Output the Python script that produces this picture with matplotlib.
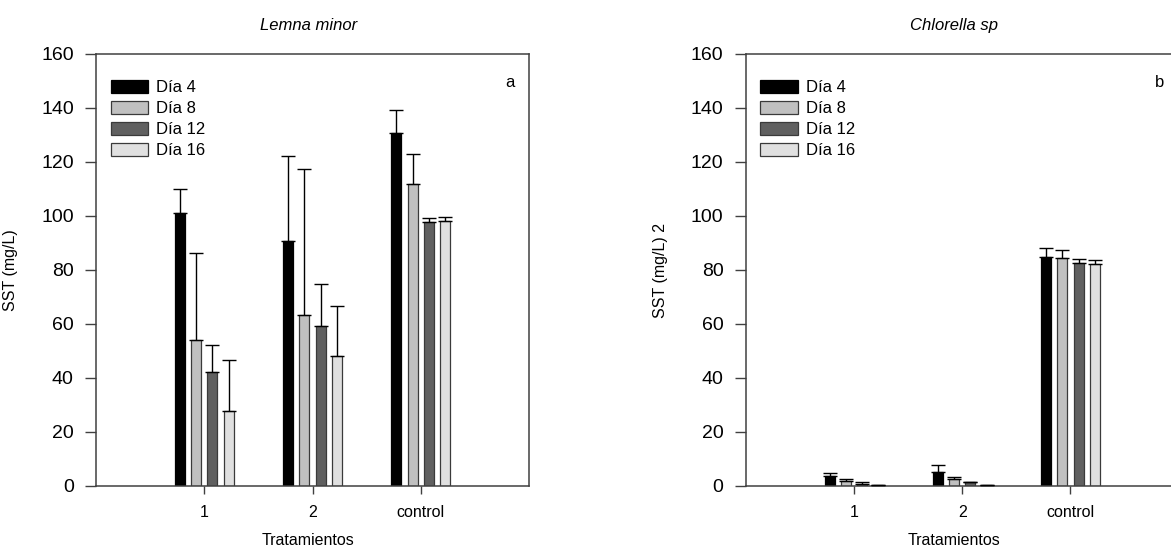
import matplotlib
matplotlib.use('Agg')
import matplotlib.pyplot as plt
import numpy as np

plt.rcParams['font.family'] = ['Liberation Sans', 'DejaVu Sans']

treatments = ['1', '2', 'control']
days = ['Día 4', 'Día 8', 'Día 12', 'Día 16']
colors = ['#000000', '#c0c0c0', '#606060', '#e0e0e0']

# Lemna minor, SST (mg/L): rows = day, cols = treatment
lemna_mean = [[101.0, 90.8, 130.8],
              [53.9, 63.4, 111.8],
              [42.4, 59.1, 97.9],
              [27.7, 48.0, 98.3]]
lemna_err = [[9.1, 31.5, 8.3],
             [32.4, 53.9, 11.3],
             [9.8, 15.6, 1.3],
             [19.0, 18.6, 1.4]]

# Chlorella sp
chlorella_mean = [[3.8, 5.2, 84.8],
                  [1.7, 2.6, 84.4],
                  [0.7, 1.3, 82.6],
                  [0.5, 0.3, 82.2]]
chlorella_err = [[1.2, 2.4, 3.3],
                 [0.8, 0.9, 3.0],
                 [0.9, 0.3, 1.6],
                 [0.0, 0.0, 1.6]]

W, H = 1171, 552
fig = plt.figure(figsize=(W / 100, H / 100), dpi=100)

axw, axh = 433 / W, 432 / H
bottom = 66 / H
ax1 = fig.add_axes([96 / W, bottom, axw, axh])
ax2 = fig.add_axes([745.7 / W, bottom, axw, axh])

x = np.arange(1, len(treatments) + 1)
offsets = [-0.225, -0.075, 0.075, 0.225]
spine_col = '#404040'


def draw(ax, means, errs, title, ylabel, letter, tx):
    for i in range(len(days)):
        ax.bar(x + offsets[i], means[i], width=0.092, color=colors[i],
               edgecolor='#000000' if i == 0 else '#3a3a3a', linewidth=0.9,
               label=days[i], zorder=2)
        ax.errorbar(x + offsets[i], means[i], yerr=[np.zeros(3), errs[i]],
                    fmt='none', ecolor='black', elinewidth=1.0, capsize=5,
                    capthick=1.0, zorder=3)
    ax.set_xlim(0, 4)
    ax.set_ylim(0, 160)
    ax.set_yticks(range(0, 161, 20))
    ax.set_xticks(x)
    ax.set_xticklabels(treatments)
    ax.tick_params(axis='y', direction='out', length=8, width=1, pad=8,
                   labelsize=14, color=spine_col)
    ax.tick_params(axis='x', direction='out', length=6, width=1, pad=8,
                   labelsize=11.5, color=spine_col)
    for s in ax.spines.values():
        s.set_color(spine_col)
        s.set_linewidth(1.1)
    ax.set_ylabel(ylabel, fontsize=11.5)
    ax.yaxis.set_label_coords(-0.18, 0.5)
    ax.set_xlabel('Tratamientos', fontsize=11.5)
    ax.xaxis.set_label_coords(tx, -0.108)
    ax.text(tx, 1.067, title, transform=ax.transAxes, ha='center',
            va='center', fontsize=12, style='italic')
    ax.text(0.955, 0.935, letter, transform=ax.transAxes, ha='center',
            va='center', fontsize=12)
    ax.legend(loc='upper left', bbox_to_anchor=(0.0335, 0.94),
              frameon=False, fontsize=12, handlelength=2.25,
              handleheight=0.85, handletextpad=0.5, labelspacing=0.33,
              borderpad=0, borderaxespad=0)


draw(ax1, lemna_mean, lemna_err, 'Lemna minor', 'SST (mg/L)', 'a', 0.49)
draw(ax2, chlorella_mean, chlorella_err, 'Chlorella sp', 'SST (mg/L) 2', 'b', 0.48)

fig.savefig('out.png', dpi=100)
